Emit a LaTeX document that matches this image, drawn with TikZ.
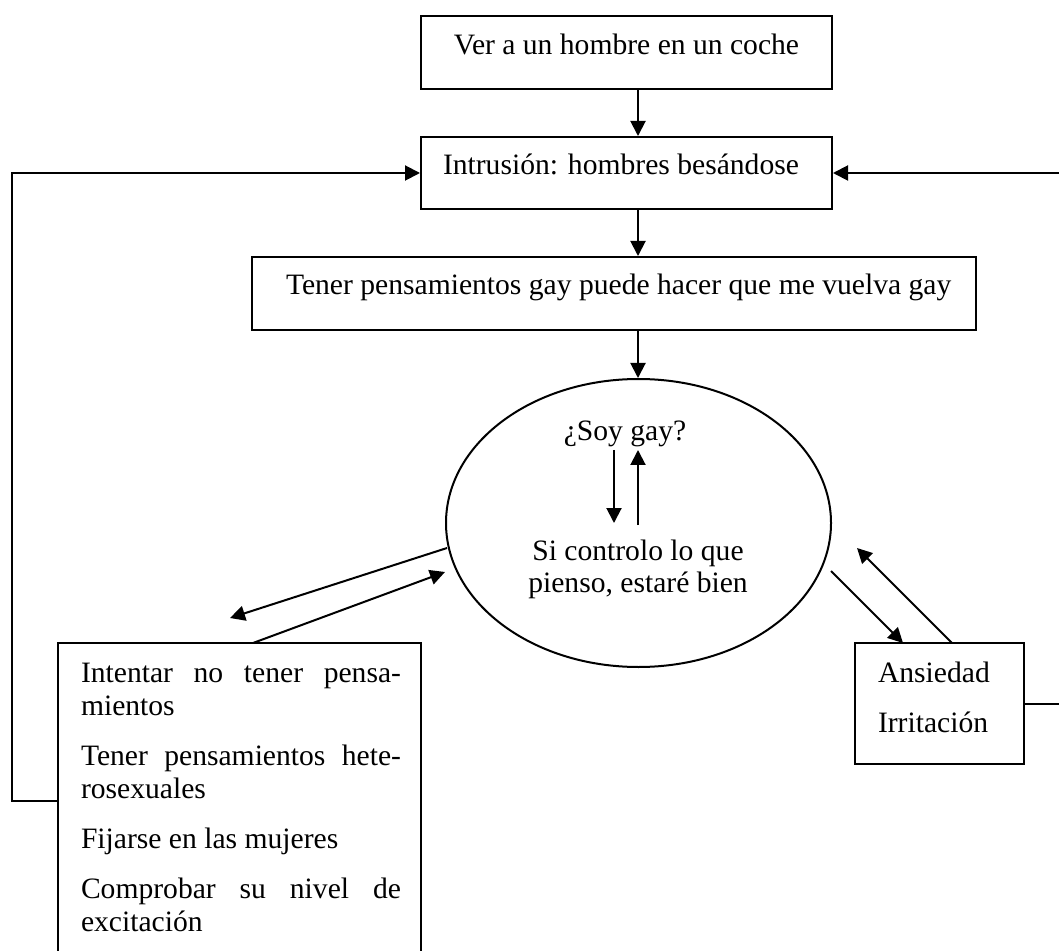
\documentclass[tikz,border=0pt]{standalone}
\usepackage{fontspec}
\setmainfont{Liberation Serif}
\usetikzlibrary{arrows.meta,shapes.geometric}
\begin{document}
\begin{tikzpicture}[x=0.5pt,y=-0.5pt, line width=1pt,
  box/.style={draw, rectangle, inner sep=0pt},
  arr/.style={-{Triangle[length=7.5pt,width=7.5pt]}},
  txt/.style={inner sep=0pt, font=\fontsize{14.8}{16.5}\selectfont},
  ]
\useasboundingbox (0,0) rectangle (1059,951);

% boxes
\node[box, minimum width=205.5pt, minimum height=36.5pt] (b1) at (626.5,52.5) {};
\node[box, minimum width=205.5pt, minimum height=36pt] (b2) at (626.5,173) {};
\node[box, minimum width=362pt, minimum height=36.5pt] (b3) at (614,293.5) {};
\node[draw, ellipse, inner sep=0pt, minimum width=192.5pt, minimum height=144pt] (el) at (638.5,523) {};
\node[box, minimum width=181.5pt, minimum height=161pt] (lb) at (239.5,804) {};
\node[box, minimum width=84.5pt, minimum height=60.5pt] (rb) at (939.5,703.5) {};

% texts
\node[txt, anchor=base] (t1) at (626.5,55) {Ver a un hombre en un coche};
\node[txt, anchor=base west] (t2) at (442,175) {Intrusión: hombres besándose};
\node[txt, anchor=base west] (t3) at (285,295) {Tener pensamientos gay puede hacer que me vuelva gay};
\node[txt, anchor=base] (t4) at (625,441) {¿Soy gay?};
\node[txt, anchor=base] (t5) at (638,560) {\fontsize{14.8}{16}\selectfont\begin{tabular}[t]{@{}c@{}}Si controlo lo que\\pienso, estaré bien\end{tabular}};
\node[txt, anchor=base west] (t6) at (80,682) {\parbox[t]{160pt}{\fontsize{14.8}{16.5}\selectfont\setlength{\parskip}{8.5pt}%
Intentar no tener pensa-\linebreak mientos\par
Tener pensamientos hete-\linebreak rosexuales\par
Fijarse en las mujeres\par
Comprobar su nivel de\linebreak excitación}};
\node[txt, anchor=base west] (t7) at (877,682) {Ansiedad};
\node[txt, anchor=base west] (t8) at (877,732) {Irritación};

% vertical flow arrows
\coordinate (ax) at (638,0);
\draw[arr] (b1.south -| ax) -- (b2.north -| ax);
\draw[arr] (b2.south -| ax) -- (b3.north -| ax);
\draw[arr] (b3.south -| ax) -- (el.north -| ax);

% inner arrows
\coordinate (d1) at (614,450);
\coordinate (d2) at (614,523);
\coordinate (u1) at (638,525);
\coordinate (u2) at (638,450);
\draw[arr] (d1) -- (d2);
\draw[arr] (u1) -- (u2);

% left pair
\coordinate (la1) at (447,548);
\coordinate (la2) at (230,618);
\coordinate (lb1) at (253,643);
\coordinate (lb2) at (445,572);
\draw[arr] (la1) -- (la2);
\draw[arr] (lb1) -- (lb2);

% right pair
\coordinate (ra1) at (831,571);
\coordinate (ra2) at (903,643);
\coordinate (rb1) at (952,643);
\coordinate (rb2) at (857,548);
\draw[arr] (ra1) -- (ra2);
\draw[arr] (rb1) -- (rb2);

% feedback loops
\coordinate (ll) at (12,801);
\draw[arr] (lb.west |- ll) -- (ll) -- (ll |- b2.west) -- (b2.west);
\coordinate (rr) at (1068,0);
\draw[arr] (rb.east) -- (rb.east -| rr) -- (rr |- b2.east) -- (b2.east);
\end{tikzpicture}
\end{document}
